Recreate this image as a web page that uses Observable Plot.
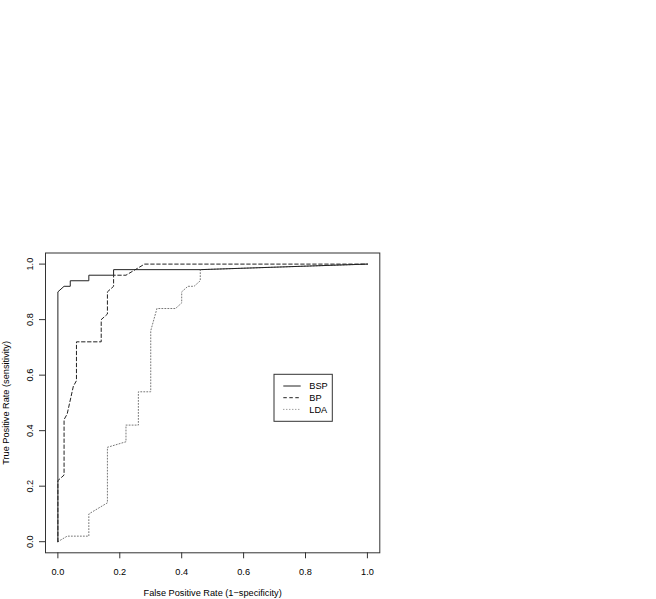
<!DOCTYPE html>
<html>
<head>
<meta charset="utf-8">
<script src="https://cdn.jsdelivr.net/npm/d3@7"></script>
<script src="https://cdn.jsdelivr.net/npm/@observablehq/plot@0.6"></script>
<style>
  body { margin: 0; background: white; }
  #chart svg { display: block; }
</style>
</head>
<body>
<div id="chart"></div>
<script>
// ---- data ----
const seriesNames = ["BSP", "BP", "LDA"];
const bspFpr = [0, 0, 0.02, 0.04, 0.04, 0.10, 0.10, 0.18, 0.18, 0.46, 1];
const bspTpr = [0, 0.90, 0.92, 0.92, 0.94, 0.94, 0.96, 0.96, 0.98, 0.98, 1];
const bpFpr = [0, 0, 0.02, 0.02, 0.03, 0.05, 0.06, 0.06, 0.14, 0.14, 0.16, 0.16, 0.18, 0.18, 0.22, 0.28, 1];
const bpTpr = [0, 0.22, 0.24, 0.44, 0.46, 0.56, 0.58, 0.72, 0.72, 0.80, 0.82, 0.90, 0.92, 0.96, 0.96, 1.0, 1];
const ldaFpr = [0, 0.03, 0.10, 0.10, 0.16, 0.16, 0.22, 0.22, 0.26, 0.26, 0.30, 0.30, 0.32, 0.38, 0.40, 0.40, 0.42, 0.44, 0.46, 0.46, 1];
const ldaTpr = [0, 0.02, 0.02, 0.10, 0.14, 0.34, 0.36, 0.42, 0.42, 0.54, 0.54, 0.76, 0.84, 0.84, 0.86, 0.90, 0.92, 0.92, 0.94, 0.98, 1];
const xTicks = [0, 0.2, 0.4, 0.6, 0.8, 1.0];
const yTicks = [0, 0.2, 0.4, 0.6, 0.8, 1.0];
const xLabel = "False Positive Rate (1\u2212specificity)";
const yLabel = "True Positive Rate (sensitivity)";

const toRows = (xs, ys) => xs.map((x, i) => ({x, y: ys[i]}));
const bsp = toRows(bspFpr, bspTpr);
const bp = toRows(bpFpr, bpTpr);
const lda = toRows(ldaFpr, ldaTpr);

const styles = {
  BSP: {stroke: "#222", strokeDasharray: null},
  BP: {stroke: "#222", strokeDasharray: "3.5,2.5"},
  LDA: {stroke: "#777", strokeDasharray: "1,2"}
};

const fmt = d => d.toFixed(1);
const FONT = "'Liberation Sans', Arial, sans-serif";

const chart = Plot.plot({
  width: 656,
  height: 599,
  marginLeft: 45,
  marginRight: 276.7,
  marginTop: 252.5,
  marginBottom: 46.7,
  x: {domain: [-0.04, 1.04]},
  y: {domain: [-0.04, 1.04]},
  style: {fontFamily: FONT, fontSize: "9.2px", background: "white", color: "black"},
  marks: [
    Plot.frame({stroke: "#333", strokeWidth: 1}),
    Plot.axisX({ticks: xTicks, tickSize: 6, tickPadding: 10, tickFormat: fmt, label: null, stroke: "#333"}),
    Plot.axisY({ticks: yTicks, tickSize: 6, tickFormat: () => "", label: null, stroke: "#333"}),
    Plot.text(yTicks, {y: d => d, text: fmt, frameAnchor: "left", dx: -15, rotate: -90, textAnchor: "middle", lineAnchor: "middle", fill: "black"}),
    Plot.text([xLabel], {text: d => d, frameAnchor: "bottom", dy: 40, lineAnchor: "middle", fill: "black"}),
    Plot.text([yLabel], {text: d => d, frameAnchor: "left", dx: -39.5, rotate: -90, textAnchor: "middle", lineAnchor: "middle", fill: "black"}),
    Plot.line(lda, {x: "x", y: "y", stroke: styles.LDA.stroke, strokeWidth: 1, strokeDasharray: styles.LDA.strokeDasharray}),
    Plot.line(bp, {x: "x", y: "y", stroke: styles.BP.stroke, strokeWidth: 1, strokeDasharray: styles.BP.strokeDasharray}),
    Plot.line(bsp, {x: "x", y: "y", stroke: styles.BSP.stroke, strokeWidth: 1})
  ]
});
document.getElementById("chart").appendChild(chart);

// ---- legend (inside plot area, like R's legend()) ----
const svg = d3.select(chart);
const lg = svg.append("g").attr("font-family", FONT).attr("font-size", "9.2px").attr("text-anchor", "start");
const bx = 274, by = 374.3, bw = 58.3, bh = 47;
lg.append("rect").attr("x", bx).attr("y", by).attr("width", bw).attr("height", bh)
  .attr("fill", "white").attr("stroke", "#333").attr("stroke-width", 1);
seriesNames.forEach((name, i) => {
  const yy = 386 + i * 11.7;
  const s = styles[name];
  const ln = lg.append("line").attr("x1", 283.3).attr("x2", 300.7).attr("y1", yy).attr("y2", yy)
    .attr("stroke", s.stroke).attr("stroke-width", 1);
  if (s.strokeDasharray) ln.attr("stroke-dasharray", s.strokeDasharray);
  lg.append("text").attr("x", 309.3).attr("y", yy).attr("dy", "0.35em")
    .attr("text-anchor", "start").attr("fill", "black").text(name);
});
</script>
</body>
</html>
